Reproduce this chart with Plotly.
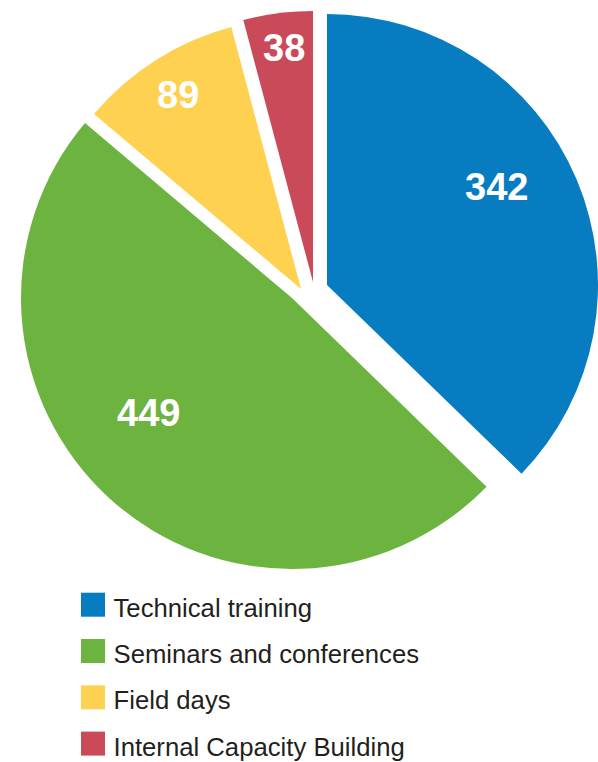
import math
import plotly.graph_objects as go

# ---- data -------------------------------------------------------------
categories = [
    "Technical training",
    "Seminars and conferences",
    "Field days",
    "Internal Capacity Building",
]
values = [342, 449, 89, 38]
colors = ["#087cc1", "#6db33f", "#ffd150", "#cb4a59"]

# ---- layout constants (px) ---------------------------------------------
W, H = 598, 762
R = 271                       # slice radius
apex_x = [327, 292, 301, 313] # point of each exploded slice
apex_y = [285, 298, 289, 282]
label_r = [0.722, 0.679, 0.848, 0.872]  # value label distance, share of radius
label_nudge = [-7.1, 9.1, 0.0, 0.3]     # value label angular nudge, degrees

legend_marker_x = 93
legend_text_x = 113.5
legend_y0 = 604.7
legend_step = 46.3
legend_text_dy = 5.5

n = len(values)
total = sum(values)

fig = go.Figure()

# one pie per slice so each wedge can be exploded on its own
for k in range(n):
    slice_colors = [colors[i] if i == k else "rgba(0,0,0,0)" for i in range(n)]
    ax, ay = apex_x[k], apex_y[k]
    fig.add_trace(go.Pie(
        values=values,
        labels=categories,
        sort=False,
        direction="clockwise",
        rotation=0,
        marker=dict(colors=slice_colors, line=dict(width=0)),
        textinfo="none",
        hoverinfo="skip",
        showlegend=False,
        domain=dict(x=[(ax - R) / W, (ax + R) / W],
                    y=[(H - ay - R) / H, (H - ay + R) / H]),
    ))

# value labels placed along each slice's bisector
annotations = []
start = 0.0
for k, v in enumerate(values):
    mid = (start + v / 2) / total * 360 + label_nudge[k]
    start += v
    rad = math.radians(mid)
    lx = apex_x[k] + label_r[k] * R * math.sin(rad)
    ly = apex_y[k] - label_r[k] * R * math.cos(rad)
    annotations.append(dict(
        x=lx, y=ly, xref="x", yref="y", text=str(v), showarrow=False,
        xanchor="center", yanchor="middle",
        font=dict(family="Liberation Sans", size=38, color="white", weight="bold"),
    ))

# legend: colour squares and category names
rows_y = [legend_y0 + i * legend_step for i in range(n)]
fig.add_trace(go.Scatter(
    x=[legend_marker_x] * n, y=rows_y, mode="markers",
    marker=dict(symbol="square", size=24, color=colors, line=dict(width=0)),
    hoverinfo="skip", showlegend=False,
))
fig.add_trace(go.Scatter(
    x=[legend_text_x] * n, y=[y + legend_text_dy for y in rows_y], mode="text",
    text=categories, textposition="middle right",
    textfont=dict(family="Liberation Sans", size=25.7, color="#231f20"),
    hoverinfo="skip", showlegend=False,
))

fig.update_layout(
    width=W, height=H,
    margin=dict(l=0, r=0, t=0, b=0),
    paper_bgcolor="white",
    plot_bgcolor="rgba(0,0,0,0)",
    showlegend=False,
    annotations=annotations,
    xaxis=dict(range=[0, W], visible=False, fixedrange=True),
    yaxis=dict(range=[H, 0], visible=False, fixedrange=True),
)

fig.write_html("out.html")
